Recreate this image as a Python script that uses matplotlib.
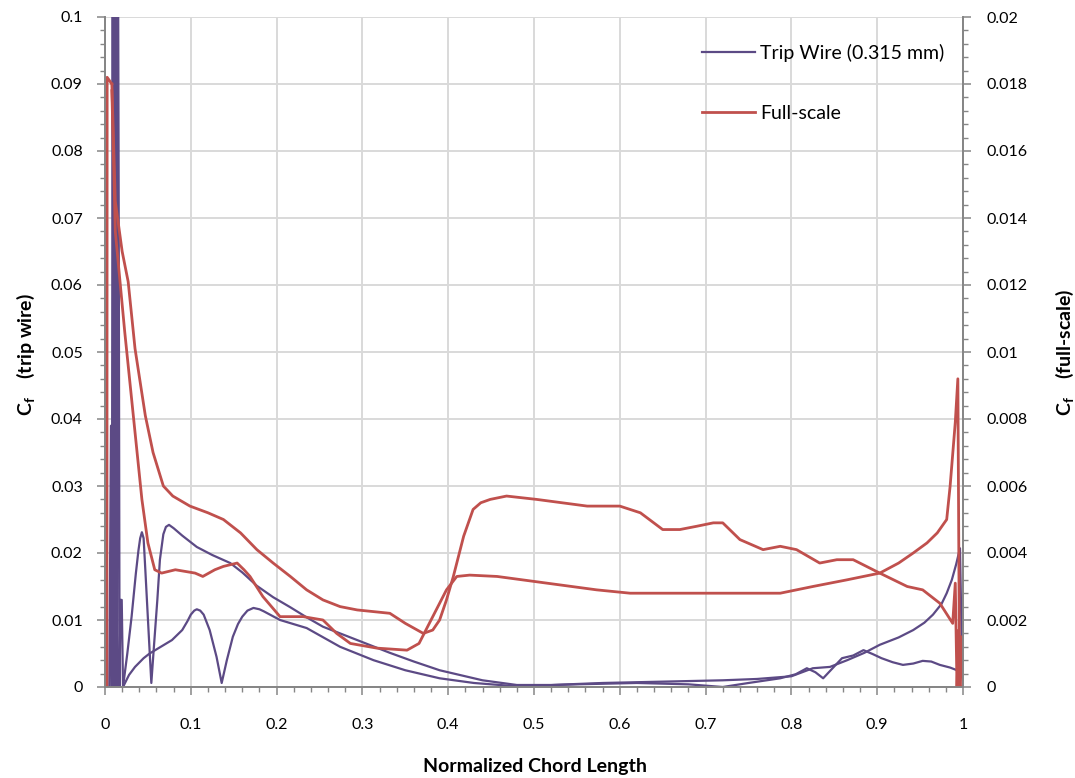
import matplotlib
matplotlib.use("Agg")
import matplotlib.pyplot as plt
from matplotlib.ticker import MultipleLocator, FuncFormatter

plt.rcParams['font.family'] = ['Lato', 'DejaVu Sans']
plt.rcParams['mathtext.fontset'] = 'custom'
plt.rcParams['mathtext.rm'] = 'Lato'
plt.rcParams['mathtext.bf'] = 'Lato:bold'

# Trip wire case (left axis) - leading edge spikes, then the two surfaces
trip_le_x = [0.0, 0.005, 0.007, 0.008, 0.009, 0.010, 0.011, 0.012, 0.013, 0.014,
             0.015, 0.016, 0.017, 0.018, 0.0195, 0.021]
trip_le_cf = [0.0, 0.0, 0.039, 0.0, 0.12, 0.0, 0.12, 0.0, 0.12, 0.0,
              0.12, 0.07, 0.0, 0.013, 0.013, 0.0]

trip_a_x = [0.021, 0.026, 0.031, 0.036, 0.039, 0.041, 0.043, 0.045, 0.047, 0.0505,
            0.054, 0.057, 0.061, 0.064, 0.068, 0.071, 0.0746, 0.08, 0.09, 0.107,
            0.125, 0.146, 0.16, 0.177, 0.196, 0.216, 0.235, 0.254, 0.294, 0.332,
            0.36, 0.39, 0.44, 0.48, 0.52, 0.58, 0.65, 0.72, 0.76, 0.80,
            0.825, 0.845, 0.865, 0.885, 0.903, 0.925, 0.942, 0.955, 0.965, 0.975,
            0.981, 0.987, 0.992, 0.9965, 0.999]
trip_a_cf = [0.0, 0.005, 0.0105, 0.017, 0.0204, 0.0222, 0.0231, 0.0222, 0.0175, 0.009,
             0.0006, 0.006, 0.013, 0.019, 0.0228, 0.0239, 0.0242, 0.0237, 0.0226, 0.0209,
             0.0197, 0.0185, 0.0171, 0.0151, 0.0134, 0.0119, 0.0104, 0.009, 0.007, 0.0051,
             0.0038, 0.0025, 0.001, 0.0003, 0.0003, 0.0006, 0.0008, 0.001, 0.0012, 0.0016,
             0.0028, 0.003, 0.004, 0.0051, 0.0063, 0.0074, 0.0085, 0.0096, 0.0108, 0.0124,
             0.014, 0.016, 0.0183, 0.0207, 0.003]

trip_b_x = [0.021, 0.028, 0.035, 0.045, 0.052, 0.065, 0.078, 0.09, 0.096, 0.100,
            0.104, 0.107, 0.111, 0.115, 0.122, 0.130, 0.136, 0.142, 0.149, 0.155,
            0.160, 0.166, 0.173, 0.180, 0.185, 0.204, 0.235, 0.274, 0.313, 0.35,
            0.39, 0.43, 0.47, 0.5, 0.55, 0.62, 0.68, 0.72, 0.75, 0.787,
            0.805, 0.818, 0.828, 0.837, 0.848, 0.859, 0.872, 0.884, 0.895, 0.905,
            0.918, 0.93, 0.942, 0.953, 0.963, 0.973, 0.985, 0.993, 0.998]
trip_b_cf = [0.0, 0.0018, 0.003, 0.0043, 0.005, 0.006, 0.007, 0.0085, 0.0098, 0.0108,
             0.0114, 0.0116, 0.0114, 0.0108, 0.0085, 0.0045, 0.0006, 0.004, 0.0075, 0.0094,
             0.0105, 0.0114, 0.0118, 0.0116, 0.0113, 0.01, 0.0088, 0.006, 0.004, 0.0025,
             0.0013, 0.0006, 0.0002, 0.0002, 0.0004, 0.0006, 0.0004, 0.0, 0.0006, 0.0013,
             0.0019, 0.0028, 0.0022, 0.0013, 0.0028, 0.0043, 0.0047, 0.0055, 0.0049, 0.0043,
             0.0037, 0.0033, 0.0035, 0.0039, 0.0038, 0.0033, 0.0029, 0.0025, 0.002]

# Full-scale case (right axis)
full_le_x = [0.0022, 0.0025, 0.008]
full_le_cf = [0.0, 0.0182, 0.018]

full_a_x = [0.008, 0.012, 0.020, 0.027, 0.035, 0.047, 0.056, 0.068, 0.079, 0.099,
            0.12, 0.138, 0.158, 0.177, 0.196, 0.216, 0.235, 0.254, 0.274, 0.294,
            0.332, 0.35, 0.371, 0.382, 0.39, 0.398, 0.406, 0.418, 0.429, 0.438,
            0.449, 0.468, 0.503, 0.562, 0.6, 0.624, 0.65, 0.67, 0.69, 0.709,
            0.72, 0.74, 0.767, 0.787, 0.806, 0.833, 0.853, 0.872, 0.903, 0.935,
            0.953, 0.973, 0.988, 0.991, 0.993, 0.995, 0.997, 1.0]
full_a_cf = [0.018, 0.0145, 0.013, 0.0121, 0.0101, 0.0081, 0.007, 0.006, 0.0057, 0.0054,
             0.0052, 0.005, 0.0046, 0.0041, 0.0037, 0.0033, 0.0029, 0.0026, 0.0024, 0.0023,
             0.0022, 0.0019, 0.0016, 0.0017, 0.002, 0.0026, 0.0033, 0.0045, 0.0053, 0.0055,
             0.0056, 0.0057, 0.0056, 0.0054, 0.0054, 0.0052, 0.0047, 0.0047, 0.0048, 0.0049,
             0.0049, 0.0044, 0.0041, 0.0042, 0.0041, 0.0037, 0.0038, 0.0038, 0.0034, 0.003,
             0.0029, 0.0025, 0.0019, 0.0031, 0.0, 0.0017, 0.0, 0.0]

full_b_x = [0.008, 0.012, 0.023, 0.031, 0.043, 0.050, 0.058, 0.066, 0.082, 0.105,
            0.114, 0.128, 0.138, 0.154, 0.162, 0.169, 0.184, 0.204, 0.231, 0.254,
            0.270, 0.286, 0.317, 0.352, 0.366, 0.382, 0.398, 0.41, 0.425, 0.457,
            0.515, 0.573, 0.612, 0.709, 0.787, 0.825, 0.865, 0.903, 0.925, 0.942,
            0.958, 0.97, 0.981, 0.985, 0.991, 0.994, 0.996, 0.998, 1.0]
full_b_cf = [0.0178, 0.0136, 0.0106, 0.0086, 0.0056, 0.0043, 0.0035, 0.0034, 0.0035, 0.0034,
             0.0033, 0.0035, 0.0036, 0.0037, 0.0035, 0.0033, 0.0027, 0.0021, 0.0021, 0.002,
             0.0016, 0.0013, 0.00116, 0.0011, 0.0013, 0.0021, 0.0029, 0.0033, 0.00334, 0.0033,
             0.0031, 0.0029, 0.0028, 0.0028, 0.0028, 0.003, 0.0032, 0.0034, 0.0037, 0.004,
             0.0043, 0.0046, 0.005, 0.006, 0.0079, 0.0092, 0.0, 0.0015, 0.0]

purple = '#5C4A85'
red = '#C0504D'
axis_grey = '#868686'
grid_grey = '#D9D9D9'

fig = plt.figure(figsize=(10.75, 7.78), dpi=100)
ax = fig.add_axes([105 / 1075, 91 / 778, 858 / 1075, 670 / 778])
ax2 = ax.twinx()

ax.plot(trip_le_x, trip_le_cf, color=purple, lw=1.6, label='Trip Wire (0.315 mm)')
ax.plot(trip_a_x, trip_a_cf, color=purple, lw=1.6)
ax.plot(trip_b_x, trip_b_cf, color=purple, lw=1.6)

ax2.plot(full_le_x, full_le_cf, color=red, lw=2.0, label='Full-scale')
ax2.plot(full_a_x, full_a_cf, color=red, lw=2.0)
ax2.plot(full_b_x, full_b_cf, color=red, lw=2.0)

ax.set_xlim(0, 1)
ax.set_ylim(0, 0.1)
ax2.set_ylim(0, 0.02)

fmt = FuncFormatter(lambda v, p: '%g' % round(v, 6))
ax.xaxis.set_major_locator(MultipleLocator(0.1))
ax.xaxis.set_minor_locator(MultipleLocator(0.02))
ax.yaxis.set_major_locator(MultipleLocator(0.01))
ax.yaxis.set_minor_locator(MultipleLocator(0.002))
ax2.yaxis.set_major_locator(MultipleLocator(0.002))
ax2.yaxis.set_minor_locator(MultipleLocator(0.0004))
for a in (ax.xaxis, ax.yaxis, ax2.yaxis):
    a.set_major_formatter(fmt)

ax.grid(True, which='major', color=grid_grey, lw=1.4)
ax.set_axisbelow(True)

for a in (ax, ax2):
    a.spines['top'].set_visible(False)
    for s in ('left', 'right', 'bottom'):
        a.spines[s].set_color(axis_grey)
        a.spines[s].set_linewidth(1.3)
    a.tick_params(which='major', direction='out', length=6, width=1.1,
                  color=axis_grey, labelsize=11.5, labelcolor='black')
    a.tick_params(which='minor', direction='out', length=3.5, width=1.0,
                  color=axis_grey)
ax.tick_params(axis='x', which='major', pad=16)
ax.tick_params(axis='y', which='major', pad=10)
ax2.tick_params(axis='y', which='major', pad=11)

ax.set_xlabel('Normalized Chord Length', fontsize=14, fontweight='bold', va='center')
ax.set_ylabel(r'$\mathbf{C_f}$    (trip wire)', fontsize=14, fontweight='bold',
              va='center')
ax2.set_ylabel(r'$\mathbf{C_f}$    (full-scale)', fontsize=14, fontweight='bold',
               rotation=90, va='center')
ax.xaxis.set_label_coords(0.501, -0.119)
ax.yaxis.set_label_coords(-0.092, 0.496)
ax2.yaxis.set_label_coords(1.119, 0.5)

h1, l1 = ax.get_legend_handles_labels()
h2, l2 = ax2.get_legend_handles_labels()
ax2.legend(h1 + h2, l1 + l2, loc='upper left', bbox_to_anchor=(702 / 1075, 1 - 44 / 778),
           bbox_transform=fig.transFigure, frameon=False, fontsize=14,
           handlelength=2.7, handletextpad=0.3, labelspacing=2.2,
           borderpad=0, borderaxespad=0)

fig.savefig('out.png', dpi=100)
